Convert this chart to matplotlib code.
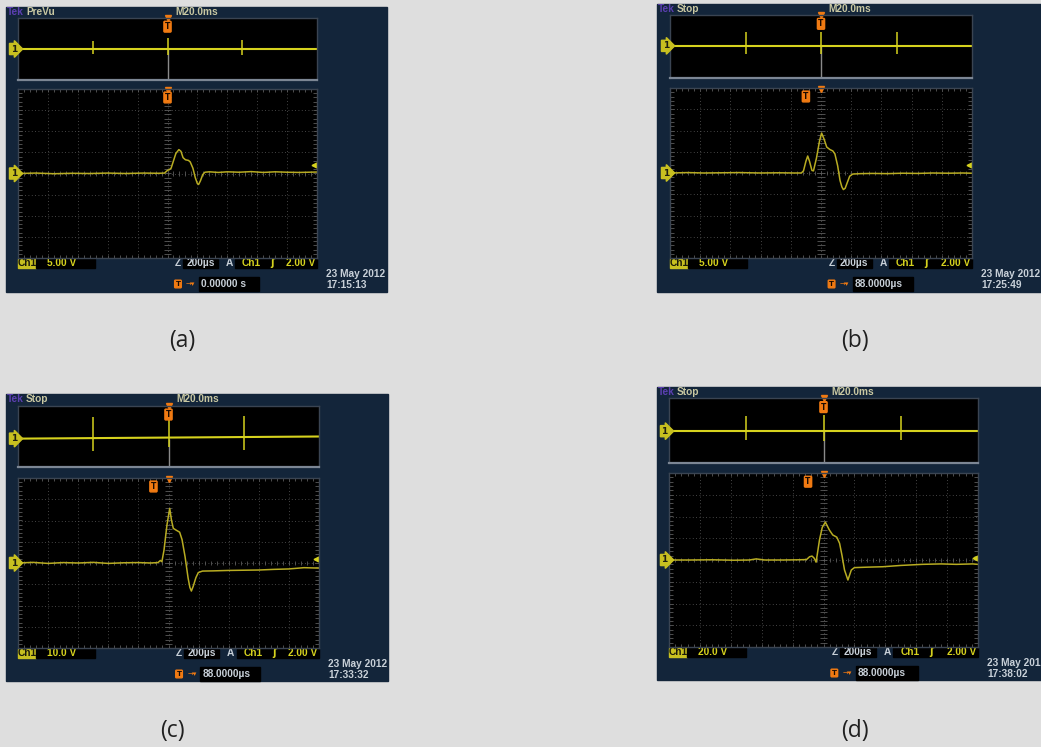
import numpy as np
import matplotlib.pyplot as plt
from matplotlib.patches import Rectangle

W, H = 1041, 747

# ---------------- data read off the four captures ----------------
# main window traces: x in divisions from trigger centre, y in divisions from ch1 ground
a_t = [-5.0, -4.4, -3.8, -3.2, -2.6, -2.0, -1.4, -0.8, -0.3, -0.1, 0.0, 0.06, 0.12, 0.2,
       0.28, 0.38, 0.45, 0.52, 0.6, 0.7, 0.76, 0.85, 0.93, 1.0, 1.04, 1.1, 1.18, 1.25,
       1.4, 1.7, 2.0, 2.4, 2.8, 3.2, 3.6, 4.0, 4.4, 5.0]
a_v = [0.0, 0.02, -0.01, 0.01, 0.0, 0.02, 0.0, 0.02, 0.01, 0.02, 0.15, 0.18, 0.25, 0.6,
       0.95, 1.13, 1.05, 0.75, 0.65, 0.62, 0.55, 0.25, -0.2, -0.48, -0.52, -0.35, -0.05, 0.06,
       0.08, 0.05, 0.08, 0.06, 0.09, 0.05, 0.08, 0.06, 0.05, 0.07]

b_t = [-5.0, -4.4, -3.9, -3.3, -2.7, -2.0, -1.4, -0.9, -0.65, -0.58, -0.5, -0.44, -0.38,
       -0.3, -0.25, -0.15, -0.05, 0.02, 0.1, 0.19, 0.3, 0.39, 0.46, 0.55, 0.63, 0.69, 0.74,
       0.8, 0.87, 0.95, 1.05, 1.3, 1.7, 2.2, 2.7, 3.2, 3.7, 4.2, 4.7, 5.0]
b_v = [0.0, 0.02, 0.0, 0.01, 0.02, 0.0, 0.01, 0.0, 0.0, 0.1, 0.55, 0.8, 0.55,
       0.12, 0.1, 0.7, 1.5, 1.88, 1.6, 1.22, 1.1, 1.04, 0.9, 0.35, -0.35, -0.65, -0.78,
       -0.72, -0.45, -0.15, -0.05, -0.03, -0.02, -0.03, -0.01, -0.02, 0.0, -0.01, 0.0, -0.01]

c_t = [-5.0, -4.5, -4.0, -3.5, -3.0, -2.5, -2.0, -1.5, -1.0, -0.6, -0.35, -0.27, -0.22,
       -0.15, -0.05, 0.04, 0.1, 0.16, 0.25, 0.37, 0.45, 0.55, 0.65, 0.71, 0.76, 0.82, 0.91,
       0.99, 1.13, 1.5, 2.0, 2.5, 3.0, 3.5, 4.0, 4.5, 5.0]
c_v = [0.0, 0.03, -0.02, 0.02, 0.0, 0.03, -0.02, 0.01, 0.02, 0.0, 0.02, 0.12, 0.06,
       0.6, 1.8, 2.57, 2.0, 1.63, 1.55, 1.45, 1.1, 0.3, -0.7, -1.15, -1.32, -1.1, -0.69,
       -0.45, -0.38, -0.37, -0.35, -0.34, -0.33, -0.3, -0.28, -0.22, -0.24]

d_t = [-5.0, -4.3, -3.6, -2.9, -2.4, -2.18, -1.9, -1.3, -0.8, -0.55, -0.45, -0.37, -0.3,
       -0.24, -0.13, -0.04, 0.06, 0.19, 0.3, 0.43, 0.52, 0.6, 0.68, 0.79, 0.9, 1.0, 1.4,
       1.92, 2.5, 3.2, 3.8, 4.3, 4.83, 5.0]
d_v = [0.0, 0.0, 0.01, -0.01, 0.0, 0.05, 0.0, 0.0, 0.01, 0.02, 0.15, 0.18, 0.08,
       -0.1, 0.92, 1.5, 1.74, 1.38, 1.15, 1.05, 0.77, 0.2, -0.46, -0.92, -0.46, -0.35, -0.33,
       -0.31, -0.25, -0.2, -0.18, -0.2, -0.18, -0.2]

# top (20 ms/div) window: trace level at both ends, spikes every 2.5 div
top_ends = [-5.0, 5.0]
a_top = [0.0, 0.0]
b_top = [0.02, 0.02]
c_top = [-0.07, 0.0]
d_top = [-0.02, -0.02]
spike_t = [-2.5, 0.0, 2.5]
a_hi, a_lo = [0.26, 0.35, 0.28], [-0.16, -0.2, -0.18]
b_hi, b_lo = [0.45, 0.45, 0.45], [-0.26, -0.26, -0.26]
c_hi, c_lo = [0.68, 0.68, 0.68], [-0.42, -0.3, -0.42]
d_hi, d_lo = [0.48, 0.5, 0.48], [-0.26, -0.3, -0.26]

modes = ['PreVu', 'Stop', 'Stop', 'Stop']
volts_div = [5.0, 5.0, 10.0, 20.0]
volts_txt = ['5.00 V', '5.00 V', '10.0 V', '20.0 V']
delays = ['0.00000 s', '88.0000µs', '88.0000µs', '88.0000µs']
stamps = ['17:15:13', '17:25:49', '17:33:32', '17:38:02']
trig_level = 2.0
captions = ['(a)', '(b)', '(c)', '(d)']

# ---------------- layout (pixels) ----------------
layouts = [
    dict(bezel=(6, 7, 387, 292), top=(18, 18, 317, 80), main=(18, 89, 317, 258), cap=(182, 341)),
    dict(bezel=(657, 4, 1045, 292), top=(670, 15, 972, 78), main=(670, 88, 972, 258), cap=(855, 341)),
    dict(bezel=(6, 394, 388, 681), top=(18, 406, 319, 467), main=(18, 478, 319, 648), cap=(172, 731)),
    dict(bezel=(657, 387, 1045, 680), top=(669, 398, 978, 463), main=(669, 473, 978, 647), cap=(855, 731)),
]
traces = [(a_t, a_v), (b_t, b_v), (c_t, c_v), (d_t, d_v)]
tops = [(a_top, a_hi, a_lo), (b_top, b_hi, b_lo), (c_top, c_hi, c_lo), (d_top, d_hi, d_lo)]
# T marker offset in main window (divisions)
trig_pos = [0.0, -0.5, -0.5, -0.5]

NAVY = '#13253a'
YEL = '#d6d21e'
YEL_DIM = '#b8ac22'
ORANGE = '#f07a12'
LIGHT = '#c8d0d8'
BEIGE = '#c9c8a2'
GRID = '#5c5c5c'
FONT = dict(family='Liberation Sans', fontweight='bold', fontsize=7.3)

fig = plt.figure(figsize=(W / 100, H / 100), dpi=100)
fig.patch.set_facecolor('#dedede')
canvas = fig.add_axes([0, 0, 1, 1])
canvas.set_xlim(0, W)
canvas.set_ylim(H, 0)
canvas.axis('off')


def fig_rect(x0, y0, x1, y1):
    return [x0 / W, 1 - y1 / H, (x1 - x0) / W, (y1 - y0) / H]


def t_icon(ax, x, y, size=5.5):
    ax.text(x, y, 'T', color='#1a0a00', fontsize=size, fontweight='bold', ha='center', va='center',
            family='DejaVu Sans', clip_on=False,
            bbox=dict(boxstyle='round,pad=0.12', fc=ORANGE, ec=ORANGE))


def ch_marker(ax, y):
    ax.text(-0.004, y, '1', transform=ax.get_yaxis_transform(), ha='right', va='center',
            color='#202010', fontsize=6.5, fontweight='bold', family='DejaVu Sans', clip_on=False,
            bbox=dict(boxstyle='rarrow,pad=0.12', fc='#c8c020', ec='#c8c020'))


def style_window(ax, xr, yr):
    ax.set_facecolor('black')
    ax.set_xlim(*xr)
    ax.set_ylim(*yr)
    ax.set_xticks([])
    ax.set_yticks([])
    for s in ax.spines.values():
        s.set_color('#3a4452')
        s.set_linewidth(1.0)


for i, lay in enumerate(layouts):
    bx0, by0, bx1, by1 = lay['bezel']
    mx0, my0, mx1, my1 = lay['main']
    mw = mx1 - mx0
    canvas.add_patch(Rectangle((bx0, by0), bx1 - bx0, by1 - by0, color=NAVY, zorder=0))

    # header
    canvas.text(bx0 + 1, by0 + 5, 'Tek', color='#5b3fb0', va='center', **FONT)
    canvas.text(bx0 + 20, by0 + 5, modes[i], color=BEIGE, va='center', **FONT)
    canvas.text((mx0 + mx1) / 2 + 29, by0 + 5, 'M20.0ms', color=BEIGE, va='center', ha='center', **FONT)

    # top overview window
    ax_top = fig.add_axes(fig_rect(*lay['top']))
    style_window(ax_top, (-5, 5), (-1, 1))
    ax_top.spines['bottom'].set_color('#7c8694')
    ax_top.spines['bottom'].set_linewidth(1.6)
    level, hi, lo = tops[i]
    ax_top.vlines(0, -1, level[0], color='#8a8a8a', lw=1.0)
    ax_top.plot(top_ends, level, color=YEL, lw=1.5)
    base = np.interp(spike_t, top_ends, level)
    ax_top.vlines(spike_t, base + np.array(lo), base + np.array(hi), color=YEL, lw=1.1)
    ax_top.plot(0, 0.99, marker='v', ms=4, color=ORANGE, clip_on=False)
    t_icon(ax_top, 0, 0.72)
    ch_marker(ax_top, level[0])

    # main zoomed window
    ax = fig.add_axes(fig_rect(*lay['main']))
    style_window(ax, (-5, 5), (-4, 4))
    for gx in range(-4, 5):
        ax.axvline(gx, color=GRID, lw=0.6, ls=(0, (1, 3)))
    for gy in range(-3, 4):
        ax.axhline(gy, color=GRID, lw=0.6, ls=(0, (1, 3)))
    minor_x = np.arange(-5, 5.01, 0.2)
    minor_y = np.arange(-4, 4.01, 0.2)
    ax.vlines(minor_x, -0.1, 0.1, color=GRID, lw=0.6)
    ax.hlines(minor_y, -0.12, 0.12, color=GRID, lw=0.6)
    ax.vlines(minor_x, 3.88, 4.0, color=GRID, lw=0.6)
    ax.vlines(minor_x, -4.0, -3.88, color=GRID, lw=0.6)
    ax.hlines(minor_y, -5.0, -4.88, color=GRID, lw=0.6)
    ax.hlines(minor_y, 4.88, 5.0, color=GRID, lw=0.6)
    t, v = traces[i]
    ax.plot(t, v, color=YEL_DIM, lw=1.1, solid_joinstyle='round')
    ax.plot(4.9, trig_level / volts_div[i], marker='<', ms=3.5, color=YEL, clip_on=False)
    ax.plot(0, 3.97, marker='v', ms=4, color=ORANGE, clip_on=False)
    t_icon(ax, trig_pos[i], 3.6)
    ch_marker(ax, 0)

    # readout row under the graticule
    ry = my1 + 5
    canvas.add_patch(Rectangle((mx0, my1 + 1), 18, 9, color='#c8c020', zorder=1))
    canvas.text(mx0 + 9, ry, 'Ch1', color='#1a1a08', ha='center', va='center', **FONT)
    canvas.add_patch(Rectangle((mx0 + 18, my1 + 1), 59, 9, color='black', zorder=1))
    canvas.text(mx0 + 29, ry, volts_txt[i], color=YEL, va='center', **FONT)
    canvas.text(mx0 + 0.535 * mw, ry, 'Z', color=LIGHT, ha='center', va='center', **FONT)
    canvas.add_patch(Rectangle((mx0 + 0.552 * mw, my1 + 1), 0.117 * mw, 9, color='black', zorder=1))
    canvas.text(mx0 + 0.61 * mw, ry, '200µs', color=LIGHT, ha='center', va='center', **FONT)
    canvas.text(mx0 + 0.706 * mw, ry, 'A', color=LIGHT, ha='center', va='center', **FONT)
    canvas.add_patch(Rectangle((mx0 + 0.726 * mw, my1 + 1), 0.274 * mw, 9, color='black', zorder=1))
    canvas.text(mx0 + 0.78 * mw, ry, 'Ch1', color=YEL, ha='center', va='center', **FONT)
    canvas.text(mx0 + 0.85 * mw, ry, 'ʃ', color=YEL, ha='center', va='center',
                family='DejaVu Sans', fontweight='bold', fontsize=7)
    canvas.text(mx1 - 2, ry, f'{trig_level:.2f} V', color=YEL, ha='right', va='center', **FONT)

    # delay row and time stamp
    dy = my1 + 26
    t_icon(canvas, mx0 + 0.535 * mw, dy, size=5)
    canvas.text(mx0 + 0.562 * mw, dy, '→▾', color=ORANGE, ha='left', va='center',
                family='DejaVu Sans', fontsize=5)
    canvas.add_patch(Rectangle((mx0 + 0.605 * mw, dy - 7), 0.2 * mw, 14, color='black', zorder=1))
    canvas.text(mx0 + 0.612 * mw, dy, delays[i], color=LIGHT, va='center', **FONT)
    canvas.text(mx1 + 9, my1 + 16, '23 May 2012', color=LIGHT, va='center', **FONT)
    canvas.text(mx1 + 9, my1 + 27, stamps[i], color=LIGHT, va='center', **FONT)

    canvas.text(*lay['cap'], captions[i], ha='center', va='center', color='#202020',
                family='Open Sans', fontsize=16.5)

fig.savefig('out.png', dpi=100, facecolor=fig.get_facecolor())
